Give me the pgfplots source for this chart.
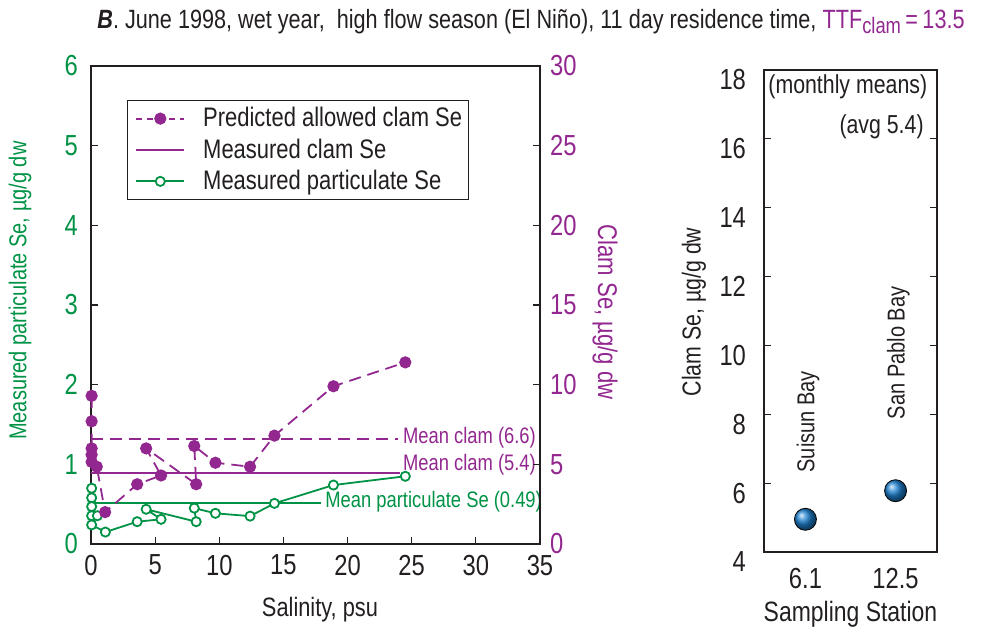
\documentclass[border=0pt]{standalone}
\usepackage{fontspec}
\setmainfont{Liberation Sans}[FakeStretch=0.82]
\usepackage{pgfplots}
\usepackage{pgfplotstable}
\pgfplotsset{compat=1.18}
\definecolor{cpurple}{RGB}{146,39,143}
\definecolor{cgreen}{RGB}{0,146,69}
\definecolor{cblue}{RGB}{30,130,210}
\definecolor{ctext}{RGB}{35,31,32}
\newcommand{\fs}[1]{\fontsize{#1bp}{1.2\dimexpr#1bp\relax}\selectfont}

% predicted allowed clam Se (clam units, right axis)
\pgfplotstableread{
x y
0.05 9.3
0.05 7.7
0.05 6.0
0.05 5.6
0.05 5.15
0.45 4.85
1.1 2.0
3.6 3.75
5.46 4.3
4.3 6.0
8.2 3.75
8.05 6.15
9.7 5.1
12.4 4.85
14.3 6.8
18.9 9.9
24.5 11.4
}\predicted
% measured particulate Se (left axis)
\pgfplotstableread{
x y
0.05 0.70
0.05 0.58
0.05 0.47
0.05 0.355
0.5 0.355
0.05 0.24
1.12 0.15
3.6 0.28
5.46 0.31
4.3 0.436
8.2 0.28
8.05 0.45
9.7 0.385
12.4 0.35
14.3 0.51
18.9 0.74
24.5 0.85
}\particulate

\begin{document}
\begin{tikzpicture}[font=\fs{13.8}, text=ctext]
% ---------- left panel, main axis ----------
\begin{axis}[
  at={(45.5bp,43.5bp)}, anchor=south west,
  scale only axis, width=224.5bp, height=239bp,
  xmin=0, xmax=35, ymin=0, ymax=6,
  xtick={0,5,...,35}, ytick={0,1,...,6},
  tick pos=left, tick align=inside, major tick length=3.5bp,
  axis line style={ctext, line width=0.6pt},
  tick style={ctext, line width=0.6pt},
  /pgf/number format/assume math mode=true,
  ticklabel style={font=\fs{14.5}},
  xticklabel style={ctext, yshift=-2bp},
  yticklabel style={cgreen, xshift=-3bp},
  xlabel={Salinity, psu},
  xlabel style={ctext, font=\fs{13.3}, at={(axis description cs:0.51,-0.138)}, anchor=center},
  ylabel={Measured particulate Se, µg/g dw},
  ylabel style={cgreen, font=\fs{12.2}, at={(axis description cs:-0.158,0.53)}, anchor=center},
  clip=false,
  legend style={at={(0.08,0.929)}, anchor=north west, draw=ctext, line width=0.5pt,
    font=\fs{13.4}, text=ctext, row sep=0.5bp,
    inner xsep=1bp, inner ysep=1.5bp},
  legend cell align=left,
  legend image code/.code={\path (-3bp,0) (31bp,0); \draw[mark repeat=2,mark phase=2] plot coordinates {(0bp,0bp)(12bp,0bp)(24bp,0bp)};},
]
\addlegendimage{cpurple, line width=0.9pt, dash pattern=on 3bp off 2.5bp, mark=*, mark size=2.6bp, mark options={solid}}
\addlegendentry{Predicted allowed clam Se}
\addlegendimage{cpurple, line width=0.9pt}
\addlegendentry{Measured clam Se}
\addlegendimage{cgreen, line width=0.9pt, mark=*, mark size=2.3bp, mark options={fill=white, line width=0.9pt}}
\addlegendentry{Measured particulate Se}

% mean lines
\addplot[cpurple, line width=0.9pt, dash pattern=on 6bp off 3.5bp, forget plot] coordinates {(0,1.318) (23.9,1.318)};
\addplot[cpurple, line width=0.9pt, forget plot] coordinates {(0,0.895) (24.1,0.895)};
\addplot[cgreen, line width=0.9pt, forget plot] coordinates {(0,0.51) (17.9,0.51)};

\addplot[cgreen, line width=0.9pt, mark=*, mark size=2.3bp, mark options={fill=white, line width=0.9pt}, forget plot] table[x=x, y=y] {\particulate};
\addplot[cpurple, line width=0.9pt, dash pattern=on 6bp off 3.5bp, mark=*, mark size=2.6bp, mark options={solid}, forget plot] table[x=x, y expr=\thisrow{y}/5] {\predicted};

\node[cpurple, font=\fs{11.2}, anchor=west, inner sep=0pt] at (axis cs:24.3,1.33) {Mean clam (6.6)};
\node[cpurple, font=\fs{11.2}, anchor=west, inner sep=0pt] at (axis cs:24.3,1.00) {Mean clam (5.4)};
\node[cgreen, font=\fs{11.2}, anchor=west, inner sep=0pt] at (axis cs:18.24,0.53) {Mean particulate Se (0.49)};
\end{axis}

% ---------- left panel, right (clam) axis ----------
\begin{axis}[
  at={(45.5bp,43.5bp)}, anchor=south west,
  scale only axis, width=224.5bp, height=239bp,
  xmin=0, xmax=35, ymin=0, ymax=30,
  axis y line*=right, axis x line=none,
  ytick={0,5,...,30},
  tick align=inside, major tick length=3.5bp,
  axis line style={ctext, line width=0.6pt},
  tick style={ctext, line width=0.6pt},
  /pgf/number format/assume math mode=true,
  yticklabel style={cpurple, font=\fs{14.5}, xshift=1.5bp},
  ylabel={Clam Se, µg/g dw},
  ylabel style={cpurple, font=\fs{13.5}, rotate=180, at={(axis description cs:1.145,0.485)}, anchor=center},
]
\end{axis}

% ---------- right panel ----------
\begin{axis}[
  at={(382bp,39.5bp)}, anchor=south west,
  scale only axis, width=86.5bp, height=241bp,
  xmin=-0.46, xmax=1.46, ymin=4, ymax=18,
  xtick={0,1}, xticklabels={6.1,12.5},
  ytick={4,6,...,18},
  ytick pos=both, tick align=inside, major tick length=3.5bp,
  xtick style={draw=none},
  ytick style={ctext, line width=0.6pt},
  axis line style={ctext, line width=0.6pt},
  /pgf/number format/assume math mode=true,
  ticklabel style={font=\fs{14.5}},
  xticklabel style={ctext, yshift=-4.5bp},
  yticklabel style={ctext, xshift=-5.5bp, yshift=-5bp},
  xlabel={Sampling Station},
  xlabel style={ctext, font=\fs{14}, at={(axis description cs:0.5,-0.13)}, anchor=center},
  ylabel={Clam Se, µg/g dw},
  ylabel style={ctext, font=\fs{13}, at={(axis description cs:-0.405,0.498)}, anchor=center},
  clip=false,
]
\addplot[only marks, mark=ball, mark size=5.5bp, mark options={ball color=cblue, draw=none}] coordinates {(0,4.95) (1,5.78)};
\node[rotate=90, font=\fs{12.2}, anchor=west, inner sep=0pt] at (axis cs:0.03,6.3) {Suisun Bay};
\node[rotate=90, font=\fs{12.2}, anchor=west, inner sep=0pt] at (axis cs:1.03,7.85) {San Pablo Bay};
\node[anchor=west, font=\fs{13}, inner sep=2bp] at (rel axis cs:0,0.965) {(monthly means)};
\node[anchor=east, font=\fs{13}, inner sep=0pt] at (rel axis cs:0.925,0.882) {(avg 5.4)};
\end{axis}

% ---------- title ----------
\node[anchor=west, inner sep=0pt, font=\fs{13.2}] at (48.5bp,304.5bp) {{\bfseries\itshape B}. June 1998, wet year,\ \ high flow season (El Niño), 11 day residence time,\ \textcolor{cpurple}{TTF\raisebox{-0.35ex}{\fs{11.2}clam}\,=\,13.5}};

\pgfresetboundingbox
\useasboundingbox (0,0) rectangle (491.5bp,315.5bp);
\end{tikzpicture}
\end{document}
